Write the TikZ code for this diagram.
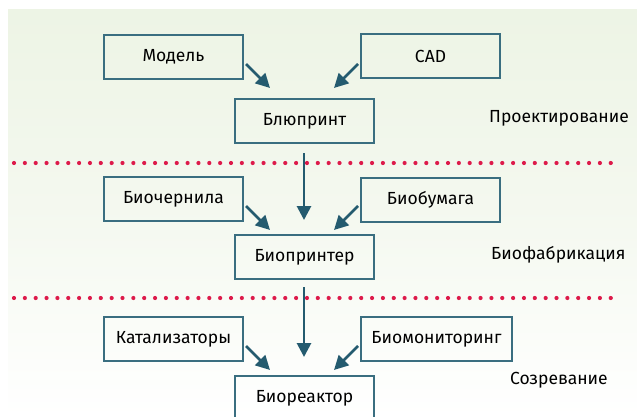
\documentclass[tikz,border=0pt]{standalone}
\usepackage{fontspec}
\setmainfont{Fira Sans}
\usetikzlibrary{arrows.meta}
\definecolor{bgtop}{HTML}{EDF4E5}
\definecolor{boxc}{HTML}{3A6E80}
\definecolor{arrc}{HTML}{245B6F}
\definecolor{dotc}{HTML}{DD1A4A}
\tikzset{
  box/.style={draw=boxc, line width=1.3pt, minimum width=139pt, minimum height=44pt, inner sep=0pt, font=\fontsize{17.5}{20}\selectfont},
  stage/.style={anchor=west, inner sep=0pt, font=\fontsize{17.5}{20}\selectfont},
  arr/.style={draw=arrc, line width=2.8pt, -{Triangle[length=14pt,width=14pt]}},
  dotline/.style={draw=dotc, line width=4.2pt, line cap=round, dash pattern=on 0pt off 10.85pt}
}
\begin{document}
\begin{tikzpicture}[x=1pt,y=-1pt]
\useasboundingbox (0,0) rectangle (637,417);
\fill[white] (0,0) rectangle (637,417);
\shade[top color=bgtop, bottom color=white, middle color=bgtop!60!white] (8,10) rectangle (637,417);
\begin{scope}
\clip (0,0) rectangle (637,417);
\node[box] (model) at (173.5,57) {Модель};
\node[box] (cad) at (430.5,56) {CAD};
\node[box] (blue) at (304.5,121) {Блюпринт};
\node[box] (ink) at (173.5,199) {Биочернила};
\node[box] (paper) at (430.5,200) {Биобумага};
\node[box] (printer) at (304.5,257) {Биопринтер};
\node[box] (cat) at (173.5,339) {Катализаторы};
\node[box, minimum width=151pt] (mon) at (436.5,339) {Биомониторинг};
\node[box] (reactor) at (304.5,398) {Биореактор};
\end{scope}
\node[stage] (s1) at (489,118) {Проектирование};
\node[stage] (s2) at (491,255) {Биофабрикация};
\node[stage] (s3) at (510,380) {Созревание};
\coordinate (d1a) at (14,163); \coordinate (d1b) at (619,163);
\coordinate (d2a) at (14,298); \coordinate (d2b) at (619,298);
\draw[dotline] (d1a) -- (d1b);
\draw[dotline] (d2a) -- (d2b);
\coordinate (m0) at (246,64); \coordinate (m1) at (270,88);
\coordinate (c0) at (358,64); \coordinate (c1) at (334,88);
\draw[arr] (m0) -- (m1);
\draw[arr] (c0) -- (c1);
\coordinate (i0) at (246,206); \coordinate (i1) at (270,230);
\coordinate (p0) at (358,206); \coordinate (p1) at (334,230);
\draw[arr] (i0) -- (i1);
\draw[arr] (p0) -- (p1);
\coordinate (k0) at (246,346); \coordinate (k1) at (270,370);
\coordinate (b0) at (358,346); \coordinate (b1) at (334,370);
\draw[arr] (k0) -- (k1);
\draw[arr] (b0) -- (b1);
\coordinate (v0) at (304,153); \coordinate (v1) at (304,220);
\coordinate (w0) at (304,287); \coordinate (w1) at (304,357);
\draw[arr] (v0) -- (v1);
\draw[arr] (w0) -- (w1);
\end{tikzpicture}
\end{document}
